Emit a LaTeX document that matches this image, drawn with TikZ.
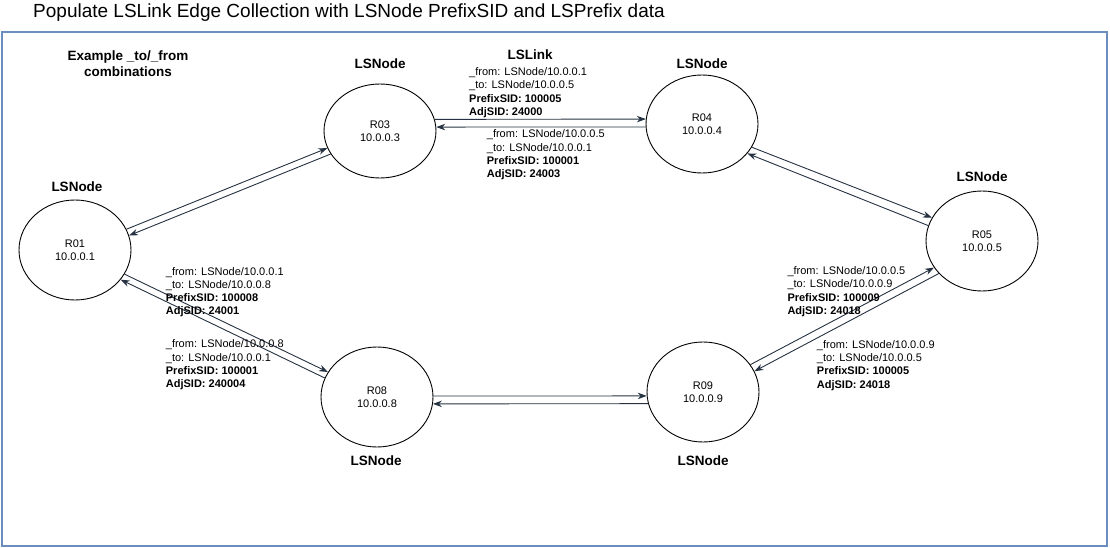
\documentclass[tikz,border=0pt]{standalone}
\usepackage{fontspec}
\setmainfont{Liberation Sans}
\usetikzlibrary{shapes.geometric,arrows.meta}
\definecolor{framecol}{RGB}{108,142,191}
\definecolor{linkcol}{RGB}{38,50,66}
\begin{document}
\begin{tikzpicture}[x=1pt,y=-1pt,
  router/.style={ellipse, draw=black, line width=0.9pt, minimum width=112pt, minimum height=100pt, inner sep=0pt, align=center, font=\fontsize{11}{13}\selectfont},
  typelabel/.style={font=\bfseries\fontsize{13.5}{16}\selectfont, inner sep=0pt},
  linklabel/.style={anchor=west, align=left, inner sep=0pt, font=\fontsize{11}{13.3}\selectfont},
  link/.style={draw=linkcol, line width=0.9pt, -{Stealth[length=9pt,width=6.5pt]}},
  titletext/.style={anchor=west, inner sep=0pt, font=\fontsize{19}{22}\selectfont},
]
\useasboundingbox (0,0) rectangle (1110,548);
\draw[framecol, line width=2pt] (2,32) rectangle (1107,546);

\node[titletext] (title) at (33,13) {Populate LSLink Edge Collection with LSNode PrefixSID and LSPrefix data};
\node[typelabel, align=center, font=\bfseries\fontsize{13.5}{16}\selectfont] (example) at (128,64) {Example \_to/\_from\\combinations};

\node[router] (r01) at (75,250) {R01\\10.0.0.1};
\node[router, minimum height=94pt] (r03) at (380,131) {R03\\10.0.0.3};
\node[router, minimum height=98pt] (r04) at (702,124) {R04\\10.0.0.4};
\node[router] (r05) at (982,241) {R05\\10.0.0.5};
\node[router] (r08) at (377,397) {R08\\10.0.0.8};
\node[router] (r09) at (703,392) {R09\\10.0.0.9};

\node[typelabel] (t01) at (77,187) {LSNode};
\node[typelabel] (t03) at (380,64) {LSNode};
\node[typelabel] (t04) at (702,64) {LSNode};
\node[typelabel] (t05) at (982,177) {LSNode};
\node[typelabel] (t08) at (376,461) {LSNode};
\node[typelabel] (t09) at (703,461) {LSNode};
\node[typelabel] (lslink) at (530,55) {LSLink};

\draw[link] (r01.22) -- (r03.198);
\draw[link] (r03.205) -- (r01.15);
\draw[link] (r03.12) -- (r04.175);
\draw[link] (r04.183) -- (r03.4);
\draw[link] (r04.335) -- (r05.155);
\draw[link] (r05.164) -- (r04.327);
\draw[link] (r01.334) -- (r08.153);
\draw[link] (r08.160) -- (r01.327);
\draw[link] (r08.1) -- (r09.184);
\draw[link] (r09.192) -- (r08.353);
\draw[link] (r09.30) -- (r05.209);
\draw[link] (r05.217) -- (r09.22);

\node[linklabel] (la) at (469,92.8) {\_from: LSNode/10.0.0.1\\\_to: LSNode/10.0.0.5\\\textbf{PrefixSID: 100005}\\\textbf{AdjSID: 24000}};
\node[linklabel] (lb) at (486.7,155) {\_from: LSNode/10.0.0.5\\\_to: LSNode/10.0.0.1\\\textbf{PrefixSID: 100001}\\\textbf{AdjSID: 24003}};
\node[linklabel] (lc) at (165.7,292.2) {\_from: LSNode/10.0.0.1\\\_to: LSNode/10.0.0.8\\\textbf{PrefixSID: 100008}\\\textbf{AdjSID: 24001}};
\node[linklabel] (ld) at (165.7,365) {\_from: LSNode/10.0.0.8\\\_to: LSNode/10.0.0.1\\\textbf{PrefixSID: 100001}\\\textbf{AdjSID: 240004}};
\node[linklabel] (le) at (787.3,291.7) {\_from: LSNode/10.0.0.5\\\_to: LSNode/10.0.0.9\\\textbf{PrefixSID: 100009}\\\textbf{AdjSID: 24018}};
\node[linklabel] (lf) at (816.7,365.3) {\_from: LSNode/10.0.0.9\\\_to: LSNode/10.0.0.5\\\textbf{PrefixSID: 100005}\\\textbf{AdjSID: 24018}};
\end{tikzpicture}
\end{document}
